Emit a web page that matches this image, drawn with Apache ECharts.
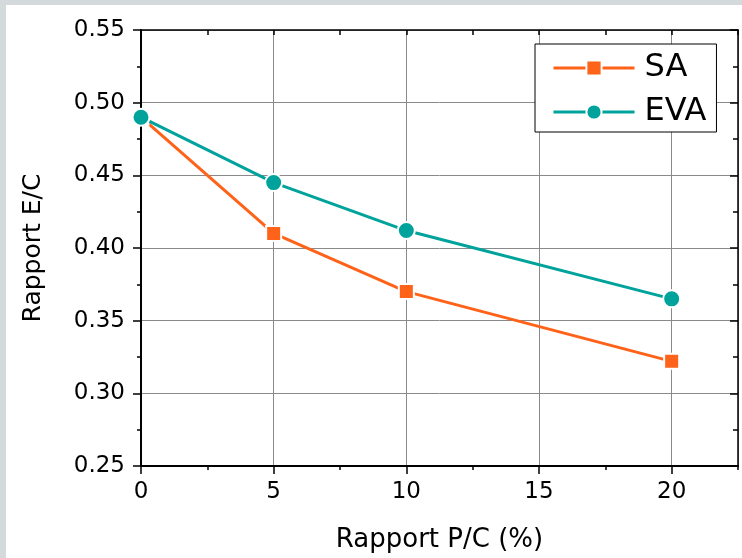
<!DOCTYPE html>
<html>
<head>
<meta charset="utf-8">
<script src="https://cdn.jsdelivr.net/npm/echarts@6/dist/echarts.min.js"></script>
<style>
html,body{margin:0;padding:0;background:#d4d9dc;width:742px;height:558px;overflow:hidden;}
#c{position:absolute;left:6px;top:5px;width:736px;height:553px;background:#ffffff;}
</style>
</head>
<body>
<div id="c"></div>
<script>
var xValues = [0, 5, 10, 20];
var saValues = [0.490, 0.410, 0.370, 0.322];
var evaValues = [0.490, 0.445, 0.412, 0.365];
var seriesNames = ['SA', 'EVA'];
var xTitle = 'Rapport P/C (%)';
var yTitle = 'Rapport E/C';

var FONT = 'DejaVu Sans';
function pairs(xs, ys){ return xs.map(function(x,i){ return [x, ys[i]]; }); }

var chart = echarts.init(document.getElementById('c'), null, {renderer:'canvas'});
var option = {
  animation: false,
  grid: {left: 135, top: 25, right: 4, bottom: 90, containLabel: false},
  legend: {
    left: 529, top: 39,
    orient: 'vertical',
    backgroundColor: '#ffffff',
    borderColor: '#000000', borderWidth: 1,
    padding: [6, 10, 2, 17],
    itemWidth: 81, itemHeight: 19, itemGap: 8,
    lineStyle: {width: 3},
    textStyle: {fontFamily: FONT, fontSize: 32, color: '#000', lineHeight: 36, padding: [0,0,0,5]},
    data: seriesNames
  },
  xAxis: [
    {
      type: 'value', position: 'bottom', min: 0, max: 22.5, interval: 5,
      name: xTitle, nameLocation: 'middle', nameGap: 61,
      nameTextStyle: {fontFamily: FONT, fontSize: 26, color: '#000'},
      axisLine: {show: true, onZero: false, lineStyle: {color: '#000', width: 2}},
      axisTick: {show: true, inside: false, length: 8, lineStyle: {color: '#000', width: 1.5}},
      axisLabel: {show: true, margin: 15, fontFamily: FONT, fontSize: 23, color: '#000', showMaxLabel: false,
        formatter: function(v){ return (v % 5 === 0) ? String(v) : ''; }},
      splitLine: {show: true, lineStyle: {color: '#8a8a8a', width: 1}}
    },
    {
      type: 'value', position: 'bottom', min: 0, max: 22.5, interval: 2.5,
      axisLine: {show: false, onZero: false},
      axisTick: {show: true, inside: false, length: 4, lineStyle: {color: '#000', width: 1.5}},
      axisLabel: {show: false}, splitLine: {show: false}
    },
    {
      type: 'value', position: 'top', min: 0, max: 22.5, interval: 2.5,
      axisLine: {show: true, onZero: false, lineStyle: {color: '#000', width: 1.5}},
      axisTick: {show: true, inside: true, length: 5, lineStyle: {color: '#000', width: 1.5}},
      axisLabel: {show: false}, splitLine: {show: false}
    }
  ],
  yAxis: [
    {
      type: 'value', position: 'left', min: 0.25, max: 0.55, interval: 0.05,
      name: yTitle, nameLocation: 'middle', nameGap: 95, nameRotate: 90,
      nameTextStyle: {fontFamily: FONT, fontSize: 25, color: '#000'},
      axisLine: {show: true, onZero: false, lineStyle: {color: '#000', width: 2}},
      axisTick: {show: true, inside: false, length: 8, lineStyle: {color: '#000', width: 1.5}},
      minorTick: {show: true, splitNumber: 2, length: 4, lineStyle: {color: '#000', width: 1.5}},
      axisLabel: {show: true, margin: 16, fontFamily: FONT, fontSize: 23, color: '#000',
        formatter: function(v){ return v.toFixed(2); }},
      splitLine: {show: true, lineStyle: {color: '#8a8a8a', width: 1}}
    },
    {
      type: 'value', position: 'right', min: 0.25, max: 0.55, interval: 0.05,
      axisLine: {show: true, onZero: false, lineStyle: {color: '#000', width: 1.5}},
      axisTick: {show: true, inside: true, length: 8, lineStyle: {color: '#000', width: 1.5}},
      minorTick: {show: true, splitNumber: 2, length: 5, lineStyle: {color: '#000', width: 1.5}},
      axisLabel: {show: false}, splitLine: {show: false}
    }
  ],
  series: [
    {
      name: seriesNames[0], type: 'line', xAxisIndex: 0, yAxisIndex: 0,
      data: pairs(xValues, saValues),
      symbol: 'rect', symbolSize: 15,
      lineStyle: {color: '#ff6219', width: 3},
      itemStyle: {color: '#ff6219', borderColor: '#ffffff', borderWidth: 2},
      z: 3
    },
    {
      name: seriesNames[1], type: 'line', xAxisIndex: 0, yAxisIndex: 0,
      data: pairs(xValues, evaValues),
      symbol: 'circle', symbolSize: 17,
      lineStyle: {color: '#00a39c', width: 3},
      itemStyle: {color: '#00a39c', borderColor: '#ffffff', borderWidth: 2},
      z: 4
    }
  ]
};
chart.setOption(option);
</script>
</body>
</html>
